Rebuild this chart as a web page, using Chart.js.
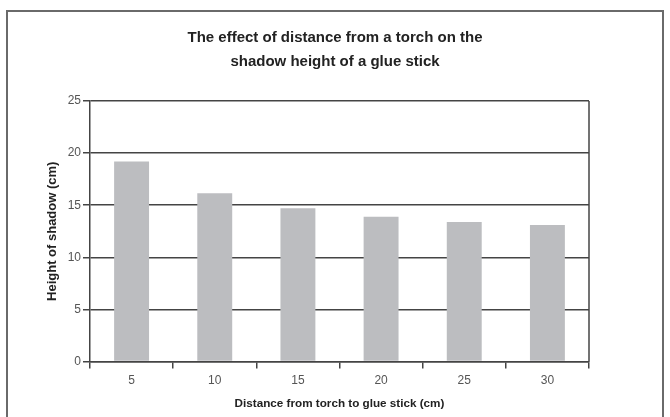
<!DOCTYPE html>
<html>
<head>
<meta charset="utf-8">
<script src="https://cdn.jsdelivr.net/npm/chart.js@4"></script>
<style>
  body { margin: 0; background: #fff; }
  #wrap { width: 670px; height: 417px; }
</style>
</head>
<body>
<div id="wrap"><canvas id="shadowChart" width="670" height="417"></canvas></div>
<script>
var distances = ["5", "10", "15", "20", "25", "30"];
var shadowHeights = [19.2, 16.15, 14.7, 13.9, 13.4, 13.1];
var yTicks = [0, 5, 10, 15, 20, 25];

var fontFamily = '"Liberation Sans", Arial, Helvetica, sans-serif';

// outer frame round the whole figure, plus the right edge of the plot box
var framePlugin = {
  id: "frame",
  beforeDraw: function(chart) {
    var ctx = chart.ctx;
    ctx.save();
    ctx.fillStyle = "#fff";
    ctx.fillRect(0, 0, chart.width, chart.height);
    ctx.strokeStyle = "#6a6a6a";
    ctx.lineWidth = 2;
    ctx.strokeRect(7, 11, 656, 430);
    ctx.restore();
  },
  afterDraw: function(chart) {
    var a = chart.chartArea;
    var ctx = chart.ctx;
    ctx.save();
    ctx.strokeStyle = "#444";
    ctx.lineWidth = 1.5;
    ctx.beginPath();
    ctx.moveTo(a.right, a.top);
    ctx.lineTo(a.right, a.bottom);
    ctx.stroke();
    ctx.restore();
  }
};

new Chart("shadowChart", {
  type: "bar",
  data: {
    labels: distances,
    datasets: [{
      data: shadowHeights,
      backgroundColor: "#bcbdc0",
      barPercentage: 0.42,
      categoryPercentage: 1
    }]
  },
  plugins: [framePlugin],
  options: {
    responsive: false,
    animation: false,
    layout: { padding: { left: 0, right: 0, top: 0, bottom: 6 } },
    plugins: {
      legend: { display: false },
      tooltip: { enabled: false },
      title: {
        display: true,
        text: ["The effect of distance from a torch on the", "shadow height of a glue stick"],
        color: "#222",
        font: { family: fontFamily, size: 15, weight: "bold", lineHeight: 1.6 },
        padding: { top: 26, bottom: 27 }
      }
    },
    scales: {
      x: {
        grid: { display: true, drawOnChartArea: false, offset: true, color: "#444", tickLength: 7, lineWidth: 1.5 },
        border: { color: "#444", width: 1.5 },
        ticks: { color: "#555", font: { family: fontFamily, size: 12 }, padding: 5 },
        title: {
          display: true,
          text: "Distance from torch to glue stick (cm)",
          color: "#222",
          font: { family: fontFamily, size: 11.7, weight: "bold" },
          padding: { top: 4, bottom: 0 }
        }
      },
      y: {
        min: 0,
        max: 25,
        afterBuildTicks: function(scale) {
          scale.ticks = yTicks.map(function(v) { return { value: v }; });
        },
        afterFit: function(scale) { scale.width = 90; },
        grid: { color: "#444", lineWidth: 1.5, tickLength: 7 },
        border: { color: "#444", width: 1.5 },
        ticks: { color: "#555", font: { family: fontFamily, size: 12 }, padding: 2 },
        title: {
          display: true,
          text: "Height of shadow (cm)",
          color: "#222",
          font: { family: fontFamily, size: 13, weight: "bold" },
          padding: { top: 45, bottom: 0 }
        }
      },
      // empty right-hand axis that only reserves the margin
      yRight: {
        position: "right",
        min: 0,
        max: 25,
        grid: { display: false },
        border: { display: false },
        ticks: { display: false },
        afterFit: function(scale) { scale.width = 81; }
      }
    }
  }
});
</script>
</body>
</html>
